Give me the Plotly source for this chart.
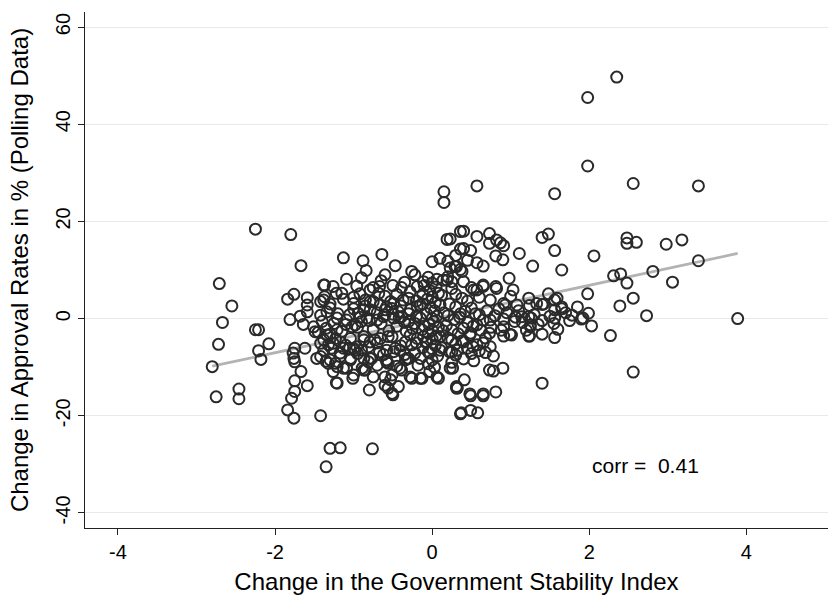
import plotly.graph_objects as go

# ---- data ----
pts = [
    # sparse / left
    (-2.80, -9.9), (-2.75, -16.1), (-2.71, 7.2), (-2.72, -5.3), (-2.67, -0.8), (-2.55, 2.6),
    (-2.46, -14.5), (-2.46, -16.5), (-2.25, 18.4), (-2.25, -2.3), (-2.21, -2.3), (-2.08, -5.2),
    (-2.21, -6.6), (-2.18, -8.4),
    (-1.80, 17.3), (-1.67, 10.9), (-1.76, 5.0), (-1.84, 4.0), (-1.59, 4.3), (-1.59, 2.8),
    (-1.38, 6.9), (-1.38, 3.8), (-1.81, -0.2), (-1.68, 0.5), (-1.59, 1.4), (-1.64, -1.2),
    (-1.51, -1.7), (-1.49, -2.7), (-1.42, 0.7), (-1.34, 1.4), (-1.42, -5.1), (-1.34, -3.4),
    (-1.32, -5.4), (-1.75, -6.1), (-1.77, -7.1), (-1.76, -8.2), (-1.75, -8.9), (-1.62, -6.1),
    (-1.47, -8.2), (-1.32, -9.2), (-1.67, -10.9), (-1.75, -12.8), (-1.59, -13.8), (-1.75, -15.0),
    (-1.79, -16.4), (-1.84, -18.8), (-1.76, -20.5), (-1.42, -20.0), (-1.30, -26.7), (-1.35, -30.5),
    (-1.17, -26.6), (-0.76, -26.8),
    # upper-left cluster
    (-1.13, 12.5), (-0.88, 11.9), (-0.64, 13.2), (-0.84, 9.9), (-0.60, 9.0), (-0.47, 10.9),
    (-1.09, 8.1), (-1.37, 6.9), (-1.26, 6.6), (-1.22, 5.2), (-1.13, 4.0), (-0.96, 6.7),
    (-0.92, 5.1), (-0.79, 5.9), (-0.75, 6.4), (-0.67, 6.6), (-0.68, 5.2), (-0.39, 6.4),
    (-0.26, 9.7), (-0.22, 9.0), (0.00, 11.7), (-0.11, 7.6), (-0.19, 6.6), (-0.28, 5.5),
    (0.06, 8.1), (0.19, 7.9), (0.23, 10.4), (0.29, 10.7), (-1.37, 4.5), (-1.42, 3.5),
    (-0.53, 3.5), (-0.49, 3.1), (-1.00, 3.1), (-0.79, 3.5), (-0.66, 2.8), (-0.75, 3.5),
    (-0.37, 3.8), (-0.87, 1.8), (-0.94, 1.1), (-0.79, 1.8), (-0.60, 1.8), (-0.51, 2.1),
    (-0.43, 1.4), (-0.28, 1.8), (-0.19, 2.5), (-1.21, 0.1), (-1.09, -0.3), (-1.02, -1.7),
    (-0.98, -1.3), (-1.21, -2.3), (-0.83, 0.1), (-0.70, -0.3), (-0.62, 0.4), (-0.49, 0.1),
    (-0.39, 0.4), (-0.30, -0.6), (-0.15, 0.1), (-0.13, -2.3), (-0.11, -3.7), (-0.56, -3.7),
    (-0.28, -3.4), (-0.26, -5.4), (-0.87, -3.7), (-0.79, -4.8), (-0.73, -4.4), (-1.26, -5.1),
    (-1.17, -4.8), (-1.13, -6.1), (-1.00, -6.1), (-0.96, -5.8), (-0.58, -6.5), (-0.49, -6.8),
    (-1.17, -7.8), (-1.04, -8.2), (-0.87, -8.2), (-0.81, -8.9), (-0.77, -8.2), (-0.58, -8.9),
    (-0.56, -9.2), (-0.34, -8.5), (-0.30, -8.2), (-1.21, -9.9), (-1.09, -10.2), (-1.00, -11.6),
    (-0.87, -10.6), (-0.75, -12.0), (-0.60, -12.0), (-0.53, -12.6), (-0.51, -11.6), (-0.41, -10.2),
    (-0.28, -12.0), (-0.15, -12.3), (-0.03, -10.9), (0.06, -12.0), (-1.21, -13.3), (-0.80, -14.7),
    (-0.60, -13.7), (-0.56, -14.3), (-0.51, -15.4), (-0.43, -14.0), (-0.50, -15.7), (-1.22, -13.2),
    (-1.01, -12.3), (-0.26, -12.3), (-0.13, -12.3), (0.08, -12.3), (0.23, -10.2), (0.31, -14.3),
    (-0.39, -10.6), (-1.26, -10.9), (-1.13, -10.2), (-0.89, -10.2), (-0.85, -10.6),
    (-1.42, -7.8), (-1.30, -8.5), (-1.23, -9.2), (-1.04, -8.5), (-0.79, -8.2), (-0.58, -8.5),
    (-0.32, -8.2), (-0.15, -8.2),
    (-1.38, -6.5), (-1.28, -6.1), (-1.17, -7.1), (-1.05, -6.1), (-0.98, -6.5), (-0.90, -6.5),
    (-0.81, -5.8), (-0.67, -6.9), (-0.47, -6.1), (-0.41, -6.5), (-0.22, -7.1), (-0.05, -6.9),
    (0.10, -6.5), (0.25, -6.9),
    (-1.38, -4.4), (-1.23, -4.1), (-1.04, -4.1), (-0.87, -4.4), (-0.66, -4.1), (-0.51, -3.7),
    (-0.34, -4.8), (-0.19, -4.1), (-0.07, -4.8), (0.10, -3.7), (0.25, -4.4),
    # centre column
    (-0.05, 8.5), (0.00, 7.3), (0.05, 6.5), (-0.03, 5.8), (0.08, 5.2), (0.00, 4.5), (-0.06, 4.0),
    (0.04, 3.3), (0.10, 2.8), (-0.02, 2.2), (0.03, 1.6), (-0.07, 1.0), (0.06, 0.5), (0.00, 0.0),
    (0.02, -0.6), (-0.04, -1.2), (0.08, -1.8), (0.00, -2.4), (-0.05, -3.0), (0.05, -3.6),
    (0.00, -4.2), (-0.08, -4.9), (0.04, -5.5), (0.00, -6.2), (-0.03, -7.0), (0.07, -7.7),
    (0.00, -8.5), (-0.05, -9.3), (0.03, -10.0), (0.12, 4.8), (0.15, 1.2), (0.14, -2.5),
    (0.12, -6.0), (-0.10, 6.8), (-0.10, -1.5), (-0.12, 3.0),
    # right of centre
    (0.20, 8.6), (0.25, 6.2), (0.30, 5.0), (0.38, 4.2), (0.45, 3.6), (0.50, 6.4), (0.22, 3.0),
    (0.30, 2.4), (0.42, 1.5), (0.50, 2.2), (0.55, 1.0), (0.20, 0.6), (0.28, -0.2), (0.35, 0.3),
    (0.45, -0.8), (0.52, -1.6), (0.18, -1.4), (0.25, -2.3), (0.33, -3.1), (0.40, -2.0),
    (0.48, -3.4), (0.20, -4.0), (0.30, -5.2), (0.38, -4.6), (0.45, -6.1), (0.52, -5.8),
    (0.22, -6.8), (0.30, -7.5), (0.40, -8.3), (0.25, -9.0), (0.50, -7.2), (0.36, 1.0),
    (0.60, 4.4), (0.60, 0.8), (0.62, -2.4), (0.70, 1.6), (0.68, -4.0), (0.80, 0.6), (0.85, 2.0),
    (0.75, -1.8), (0.95, 1.2), (0.60, -6.6), (0.68, -7.0),
    # line band fill left
    (-1.35, -2.0), (-1.25, -1.0), (-1.15, -2.6), (-1.05, 0.8), (-0.95, -1.8), (-0.90, -0.6),
    (-0.85, 2.6), (-0.75, -2.2), (-0.70, 1.2), (-0.65, -1.0), (-0.55, -2.5), (-0.50, 0.9),
    (-0.45, -1.6), (-0.40, 2.6), (-0.35, -0.8), (-0.30, 1.0), (-0.25, -2.0), (-0.20, 0.5),
    (-0.15, 2.8), (-1.30, 2.2), (-1.20, 1.0), (-1.10, -1.2), (-1.00, 2.0), (-0.80, -0.4),
    (-0.60, 0.8), (-0.42, 0.2), (-0.33, -2.6), (-0.22, -1.0), (-0.58, 2.4), (-0.92, 0.3),
    (-1.40, -0.6), (-1.45, -2.8),
    (-1.30, 3.0), (-1.00, 4.4), (-0.85, 3.8), (-0.60, 4.6), (-0.45, 5.0), (-0.30, 4.2),
    (-0.20, 3.6), (-1.15, 5.2), (-0.50, 6.8), (-0.35, 7.5), (-0.12, 5.0), (-0.65, 7.8), (-0.90, 8.4),
    (-1.30, -3.2), (-1.10, -5.5), (-0.95, -7.2), (-0.70, -5.0), (-0.62, -7.4), (-0.40, -5.6),
    (-0.35, -7.4), (-0.20, -5.0), (-0.12, -6.0), (-0.18, -9.6), (-0.45, -9.8), (-0.70, -9.6),
    (-1.35, -8.8),
    # upper centre / right
    (0.15, 26.1), (0.15, 23.9), (0.57, 27.3), (1.56, 25.7), (0.19, 16.3), (0.36, 17.9),
    (0.36, 14.3), (0.10, 12.4), (0.20, 11.8), (0.30, 13.0), (0.45, 12.0),
    (0.40, 18.0), (0.57, 16.9), (0.73, 17.5), (0.23, 16.4), (0.73, 15.5), (0.82, 16.2),
    (0.87, 15.6), (0.91, 15.0), (1.40, 16.7), (1.48, 17.4), (0.40, 14.4), (0.49, 14.0),
    (0.81, 12.9), (0.90, 12.1), (1.11, 13.4), (1.56, 14.0), (0.57, 11.5), (0.65, 10.8),
    (1.28, 10.8), (1.65, 10.0), (0.98, 8.3), (0.31, 10.7), (0.36, 10.1), (0.38, 9.7),
    (0.40, 7.6), (0.65, 6.6), (0.81, 6.6), (1.03, 5.9), (0.57, 5.9), (1.48, 5.1),
    (1.56, 3.8), (1.23, 4.2), (1.33, 3.1), (1.42, 3.0), (1.08, 2.8), (0.91, 3.1),
    (0.74, 3.8), (1.65, 2.4), (0.14, 7.9), (0.25, 7.6), (0.65, 6.9), (0.82, 6.2), (0.53, 5.9),
    (1.59, 4.2), (1.56, 1.8), (0.93, 2.8),
    # right of centre, lower
    (0.36, -19.6), (0.49, -18.9), (0.58, -19.4), (0.32, -14.3), (0.41, -12.6), (0.49, -15.9),
    (0.65, -15.9), (0.81, -15.1), (1.40, -13.3), (0.26, -10.2), (0.53, -8.7), (0.73, -10.6),
    (0.78, -10.8), (0.90, -10.2), (0.78, -7.7), (0.74, -5.8), (0.32, -6.5), (1.40, -3.2),
    (1.56, -3.9), (1.23, -3.6), (0.91, -3.6), (0.99, -3.2), (0.65, -5.0), (0.57, -5.4),
    (0.40, -4.8), (1.24, 2.7), (1.40, 2.9), (1.65, 2.0), (1.78, 0.7), (1.90, -0.1),
    (1.56, 0.1), (1.40, -0.4), (1.25, -1.3), (1.23, 0.4), (1.15, -0.8), (1.14, 0.4),
    (0.91, -0.1), (0.91, -1.7), (0.74, -0.3), (0.73, -3.0), (0.65, -0.3), (0.57, -1.3),
    (0.49, -3.0), (1.06, 0.3), (1.26, 0.1), (1.25, -1.7), (1.01, -3.4), (1.24, -3.6),
    (0.31, -14.0), (0.48, -15.5), (0.65, -15.5), (0.37, -19.4),
    (1.00, 4.6), (1.10, 1.6), (1.20, -2.4), (1.30, 0.8), (1.35, -1.2), (1.50, 0.5),
    (1.55, -1.0), (0.88, -2.4), (1.05, -0.6), (1.70, 1.2), (1.75, -0.4), (1.85, 2.4), (1.60, -2.2),
    # far right
    (2.35, 49.7), (1.98, 45.5), (1.98, 31.4), (2.56, 27.8), (3.39, 27.3),
    (2.48, 16.6), (2.48, 15.5), (2.60, 15.7), (2.98, 15.3), (3.18, 16.2), (2.06, 12.9),
    (3.39, 11.9), (2.31, 8.8), (2.40, 9.2), (2.81, 9.7), (2.48, 7.3), (3.06, 7.5),
    (1.98, 5.1), (2.56, 4.2), (2.39, 2.6), (1.92, 0.1), (1.99, 1.1), (2.03, -1.5),
    (2.73, 0.6), (2.27, -3.5), (2.56, -11.0), (3.89, 0.0),
]
x_vals = [p[0] for p in pts]
y_vals = [p[1] for p in pts]

fit_x = [-2.80, 3.89]
fit_y = [-9.8, 13.4]

x_ticks = [-4, -2, 0, 2, 4]
x_tick_text = ["-4", "-2", "0", "2", "4"]
y_ticks = [-40, -20, 0, 20, 40, 60]
y_tick_text = ["-40", "-20", "0", "20", "40", "60"]
corr_label = "corr =\u00a0\u00a00.41"

FONT = "Liberation Sans, Arial, sans-serif"

fig = go.Figure()
fig.add_trace(go.Scatter(
    x=fit_x, y=fit_y, mode="lines",
    line=dict(color="#b3b3b3", width=2.8), hoverinfo="skip", showlegend=False))
fig.add_trace(go.Scatter(
    x=x_vals, y=y_vals, mode="markers",
    marker=dict(symbol="circle-open", size=11, color="#2a2a2a", line=dict(width=2, color="#2a2a2a")),
    showlegend=False))

fig.add_annotation(x=2.72, y=-30.3, text=corr_label, showarrow=False,
                   font=dict(family=FONT, size=21, color="black"))

fig.update_layout(
    width=830, height=597,
    margin=dict(l=85, r=2, t=12, b=69),
    paper_bgcolor="white", plot_bgcolor="white",
    font=dict(family=FONT, color="black"),
    xaxis=dict(range=[-4.42, 5.04], tickvals=x_ticks, ticktext=x_tick_text, ticks="outside", ticklen=6,
               tickwidth=1.2, tickcolor="#222", showline=True, linecolor="#222", linewidth=1.3,
               showgrid=False, zeroline=False, tickfont=dict(size=20),
               title=dict(text="Change in the Government Stability Index", font=dict(size=24), standoff=11)),
    yaxis=dict(range=[-43.1, 63.1], tickvals=y_ticks, ticktext=y_tick_text, ticks="outside", ticklen=6,
               tickwidth=1.2, tickcolor="#222", showline=True, linecolor="#222", linewidth=1.3,
               showgrid=True, gridcolor="#e9e9e9", gridwidth=1.3, zeroline=False,
               tickangle=-90, tickfont=dict(size=20),
               title=dict(text="Change in Approval Rates in % (Polling Data)", font=dict(size=24), standoff=16)),
)

fig.write_html("out.html")
